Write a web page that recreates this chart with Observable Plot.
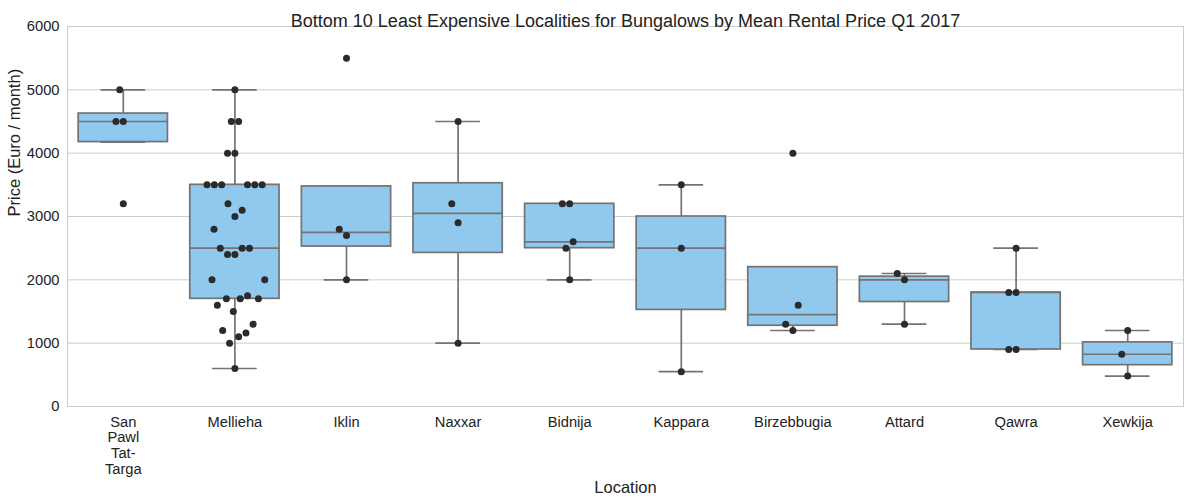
<!DOCTYPE html>
<html>
<head>
<meta charset="utf-8">
<script src="https://cdn.jsdelivr.net/npm/d3@7"></script>
<script src="https://cdn.jsdelivr.net/npm/@observablehq/plot@0.6"></script>
<style>
  html, body { margin: 0; padding: 0; background: #fff; }
  svg { display: block; }
</style>
</head>
<body>
<div id="chart"></div>
<script>
// ---------------- Data ----------------
const title = "Bottom 10 Least Expensive Localities for Bungalows by Mean Rental Price Q1 2017";
const xLabel = "Location";
const yLabel = "Price (Euro / month)";

const categories = ["San Pawl Tat-Targa", "Mellieha", "Iklin", "Naxxar", "Bidnija",
                    "Kappara", "Birzebbugia", "Attard", "Qawra", "Xewkija"];
const tickLabels = ["San\nPawl\nTat-\nTarga", "Mellieha", "Iklin", "Naxxar", "Bidnija",
                    "Kappara", "Birzebbugia", "Attard", "Qawra", "Xewkija"];
const yTicks = [0, 1000, 2000, 3000, 4000, 5000, 6000];

// Individual listing prices per locality
const sanPawlTatTarga = [5000, 4500, 4500, 3200];
const mellieha = [5000, 4500, 4500, 4000, 4000, 3500, 3500, 3500, 3500, 3500, 3500,
                  3200, 3100, 3000, 2800, 2500, 2500, 2500, 2400, 2400, 2000, 2000,
                  1750, 1700, 1700, 1700, 1600, 1500, 1300, 1200, 1160, 1100, 1000, 600];
const iklin = [5500, 2800, 2700, 2000];
const naxxar = [4500, 3200, 2900, 1000];
const bidnija = [3200, 3200, 2600, 2500, 2000];
const kappara = [3500, 2500, 550];
const birzebbugia = [4000, 1600, 1300, 1200];
const attard = [2100, 2000, 1300];
const qawra = [2500, 1800, 1800, 900, 900];
const xewkija = [1200, 825, 480];

const series = [sanPawlTatTarga, mellieha, iklin, naxxar, bidnija,
                kappara, birzebbugia, attard, qawra, xewkija];

// ---------------- Layout / style ----------------
const W = 1190, H = 502;
const mL = 67, mR = 7, mT = 26, mB = 96;
const bandPx = (W - mL - mR) / categories.length;
const pxPerUnit = (H - mT - mB) / 6000;
const boxFill = "#90c8ee";
const edge = "#737373";
const dotColor = "#2b2b2b";
const textColor = "#222222";

// ---------------- Box statistics (Tukey, 1.5 IQR, linear quantiles) ----------------
const stats = series.map((vals, i) => {
  const s = vals.slice().sort((a, b) => a - b);
  const q1 = d3.quantile(s, 0.25), med = d3.quantile(s, 0.5), q3 = d3.quantile(s, 0.75);
  const iqr = q3 - q1;
  const hiF = q3 + 1.5 * iqr, loF = q1 - 1.5 * iqr;
  const inHi = s.filter(v => v <= hiF), inLo = s.filter(v => v >= loF);
  let hi = inHi.length ? d3.max(inHi) : q3; if (hi < q3) hi = q3;
  let lo = inLo.length ? d3.min(inLo) : q1; if (lo > q1) lo = q1;
  return {i, cat: categories[i], q1, med, q3, lo, hi};
});

// ---------------- Swarm layout (beeswarm like seaborn) ----------------
function swarmOffsets(values, d, k) {
  const order = d3.range(values.length).sort((a, b) => values[a] - values[b]);
  const placed = [];
  const off = new Array(values.length).fill(0);
  for (const idx of order) {
    const y = values[idx] * pxPerUnit * k;
    const nb = placed.filter(p => Math.abs(p.y - y) < d);
    const cands = [0];
    let leftFirst = true;
    for (const p of nb) {
      const dx = Math.sqrt(Math.max(d * d - (p.y - y) ** 2, 0)) * 1.05;
      if (leftFirst) cands.push(p.x - dx, p.x + dx); else cands.push(p.x + dx, p.x - dx);
      leftFirst = !leftFirst;
    }
    const sorted = cands.map((c, j) => [c, j])
      .sort((a, b) => (Math.abs(a[0]) - Math.abs(b[0])) || (a[1] - b[1]))
      .map(a => a[0]);
    let x = sorted.find(c => nb.every(p => (p.x - c) ** 2 + (p.y - y) ** 2 >= d * d));
    if (x === undefined) x = 0;
    placed.push({x, y});
    off[idx] = x;
  }
  return off;
}

const points = [];
series.forEach((vals, i) => {
  const offs = swarmOffsets(vals, 7.0, 0.19);
  vals.forEach((v, j) => points.push({i, value: v, x: i + offs[j] / bandPx}));
});

// ---------------- Chart ----------------
const font = "'Liberation Sans', Arial, sans-serif";
const chart = Plot.plot({
  width: W, height: H,
  marginLeft: mL, marginRight: mR, marginTop: mT, marginBottom: mB,
  style: {fontFamily: font, fontSize: "14.7px", color: textColor, background: "#fff", overflow: "visible"},
  x: {type: "linear", domain: [-0.5, categories.length - 0.5]},
  y: {domain: [0, 6000]},
  marks: [
    Plot.gridY(yTicks, {stroke: "#cccccc", strokeOpacity: 1, strokeWidth: 1}),
    Plot.frame({stroke: "#cccccc", strokeWidth: 1}),
    Plot.ruleX(stats, {x: "i", y1: "q3", y2: "hi", stroke: edge, strokeWidth: 1.7}),
    Plot.ruleX(stats, {x: "i", y1: "lo", y2: "q1", stroke: edge, strokeWidth: 1.7}),
    Plot.ruleY(stats, {x1: d => d.i - 0.2, x2: d => d.i + 0.2, y: "hi", stroke: edge, strokeWidth: 1.7}),
    Plot.ruleY(stats, {x1: d => d.i - 0.2, x2: d => d.i + 0.2, y: "lo", stroke: edge, strokeWidth: 1.7}),
    Plot.rect(stats, {x1: d => d.i - 0.4, x2: d => d.i + 0.4, y1: "q1", y2: "q3",
                      fill: boxFill, stroke: edge, strokeWidth: 1.7}),
    Plot.ruleY(stats, {x1: d => d.i - 0.4, x2: d => d.i + 0.4, y: "med", stroke: edge, strokeWidth: 1.7}),
    Plot.dot(points, {x: "x", y: "value", r: 3.5, fill: dotColor, stroke: null}),
    Plot.axisX({ticks: d3.range(categories.length), tickFormat: i => tickLabels[i],
                tickSize: 0, tickPadding: 9, lineHeight: 1.07, label: null, fontSize: 14.7, fill: textColor}),
    Plot.axisY({ticks: yTicks, tickFormat: d => String(d), tickSize: 0, tickPadding: 8,
                label: null, fontSize: 14.7, fill: textColor}),
    Plot.text([title], {text: d => d, frameAnchor: "top", dy: -12.5, fontSize: 18, fill: textColor}),
    Plot.text([yLabel], {text: d => d, frameAnchor: "left", dx: -53, rotate: -90, fontSize: 16.5, fill: textColor}),
    Plot.text([xLabel], {text: d => d, frameAnchor: "bottom", dy: 86, fontSize: 16.5, fill: textColor})
  ]
});
document.getElementById("chart").appendChild(chart);
</script>
</body>
</html>
